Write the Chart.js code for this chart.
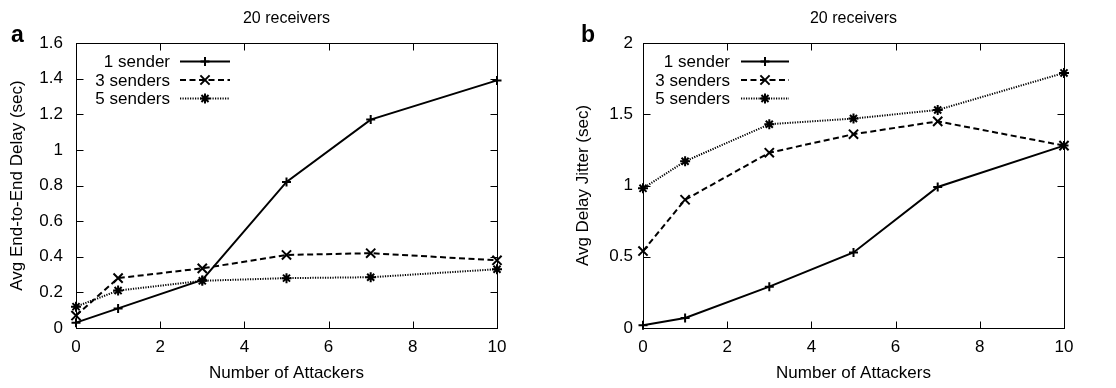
<!DOCTYPE html>
<html>
<head>
<meta charset="utf-8">
<script src="https://cdn.jsdelivr.net/npm/chart.js@4.4.1/dist/chart.umd.min.js"></script>
<style>
  body { margin: 0; background: #fff; }
  #wrap { position: relative; width: 1116px; height: 388px; }
  .panel { position: absolute; top: 0; height: 388px; }
</style>
</head>
<body>
<div id="wrap">
  <div class="panel" style="left:0;width:556px"><canvas id="delayChart" width="556" height="388"></canvas></div>
  <div class="panel" style="left:556px;width:560px"><canvas id="jitterChart" width="560" height="388"></canvas></div>
</div>
<script>
// data
const attackers = [0, 1, 3, 5, 7, 10];
const seriesLabels = ['1 sender', '3 senders', '5 senders'];

const delay1 = [0.03, 0.11, 0.27, 0.82, 1.17, 1.39];
const delay3 = [0.07, 0.28, 0.335, 0.41, 0.42, 0.38];
const delay5 = [0.12, 0.21, 0.265, 0.28, 0.285, 0.33];

const jitter1 = [0.02, 0.07, 0.29, 0.53, 0.99, 1.28];
const jitter3 = [0.54, 0.9, 1.23, 1.36, 1.45, 1.28];
const jitter5 = [0.98, 1.17, 1.43, 1.47, 1.53, 1.79];

const xTicks = [0, 2, 4, 6, 8, 10];
const delayTicks = [0, 0.2, 0.4, 0.6, 0.8, 1, 1.2, 1.4, 1.6];
const jitterTicks = [0, 0.5, 1, 1.5, 2];

const FONT = '"Liberation Sans", Arial, Helvetica, sans-serif';
Chart.defaults.font.family = FONT;
Chart.defaults.color = '#000';

const styles = [
  { borderDash: [], pointStyle: 'cross', pointRadius: 4.5 },
  { borderDash: [6, 3.5], pointStyle: 'crossRot', pointRadius: 6.5 },
  { borderDash: [1.2, 1.3], pointStyle: 'star', pointRadius: 5 }
];

function makeDatasets(seriesList) {
  return seriesList.map((vals, i) => ({
    label: seriesLabels[i],
    data: attackers.map((a, j) => ({ x: a, y: vals[j] })),
    borderColor: '#000',
    backgroundColor: '#000',
    borderWidth: 2,
    borderDash: styles[i].borderDash,
    pointStyle: styles[i].pointStyle,
    pointRadius: styles[i].pointRadius,
    pointBorderWidth: 2,
    pointHoverRadius: styles[i].pointRadius,
    tension: 0,
    clip: false
  }));
}

// gnuplot-like frame: box, inward ticks on all sides, key, title, panel letter
const gnuFrame = {
  id: 'gnuFrame',
  afterDatasetsDraw(chart, args, opts) {
    const { ctx, chartArea: a, scales } = chart;
    ctx.save();
    ctx.strokeStyle = '#000';
    ctx.lineWidth = 1;
    ctx.setLineDash([]);
    const L = Math.round(a.left) + 0.5, R = Math.round(a.right) + 0.5;
    const T = Math.round(a.top) + 0.5, B = Math.round(a.bottom) + 0.5;
    ctx.strokeRect(L, T, R - L, B - T);
    const tl = 7;
    ctx.beginPath();
    scales.x.ticks.forEach(t => {
      const px = Math.round(scales.x.getPixelForValue(t.value)) + 0.5;
      ctx.moveTo(px, B); ctx.lineTo(px, B - tl);
      ctx.moveTo(px, T); ctx.lineTo(px, T + tl);
    });
    scales.y.ticks.forEach(t => {
      const py = Math.round(scales.y.getPixelForValue(t.value)) + 0.5;
      ctx.moveTo(L, py); ctx.lineTo(L + tl, py);
      ctx.moveTo(R, py); ctx.lineTo(R - tl, py);
    });
    ctx.stroke();

    // key
    ctx.font = '17px ' + FONT;
    ctx.fillStyle = '#000';
    ctx.textAlign = 'right';
    ctx.textBaseline = 'middle';
    chart.data.datasets.forEach((ds, i) => {
      const y = a.top + opts.keyY + i * opts.keyGap;
      const tx = a.left + opts.keyText;
      ctx.fillText(ds.label, tx, y + 1);
      const x0 = a.left + opts.keyLine[0], x1 = a.left + opts.keyLine[1];
      ctx.lineWidth = 2;
      ctx.setLineDash(ds.borderDash);
      ctx.beginPath();
      ctx.moveTo(x0, y); ctx.lineTo(x1, y);
      ctx.stroke();
      ctx.setLineDash([]);
      Chart.helpers.drawPoint(ctx, {
        pointStyle: ds.pointStyle, radius: ds.pointRadius, borderWidth: 2, rotation: 0
      }, (x0 + x1) / 2, y);
    });

    // title
    ctx.font = '16px ' + FONT;
    ctx.textAlign = 'center';
    ctx.textBaseline = 'alphabetic';
    ctx.fillText(opts.title, (a.left + a.right) / 2, 23);

    // panel letter
    ctx.font = 'bold 23px ' + FONT;
    ctx.textAlign = 'left';
    ctx.fillText(opts.letter, opts.letterX, 42);
    ctx.restore();
  }
};

function makeChart(id, seriesList, yTicks, yTitle, geo) {
  return new Chart(document.getElementById(id), {
    type: 'line',
    data: { datasets: makeDatasets(seriesList) },
    plugins: [gnuFrame],
    options: {
      responsive: false,
      animation: false,
      events: [],
      layout: { padding: { left: 0, right: geo.padRight, top: 43, bottom: 0 } },
      plugins: {
        legend: { display: false },
        tooltip: { enabled: false },
        gnuFrame: {
          title: '20 receivers', letter: geo.letter, letterX: geo.letterX,
          keyY: 18.5, keyGap: 18.5, keyText: geo.keyText, keyLine: geo.keyLine
        }
      },
      scales: {
        x: {
          type: 'linear', min: 0, max: 10,
          afterBuildTicks: s => { s.ticks = xTicks.map(v => ({ value: v })); },
          afterFit: s => { s.height = 60; },
          grid: { display: false, drawTicks: false },
          border: { display: false },
          ticks: { padding: 9, font: { size: 17 }, maxRotation: 0, autoSkip: false },
          title: { display: true, text: 'Number of Attackers', font: { size: 17 }, padding: { top: 0, bottom: 4 } }
        },
        y: {
          type: 'linear', min: yTicks[0], max: yTicks[yTicks.length - 1],
          afterBuildTicks: s => { s.ticks = yTicks.map(v => ({ value: v })); },
          afterFit: s => { s.width = geo.yWidth; },
          grid: { display: false, drawTicks: false },
          border: { display: false },
          ticks: { padding: geo.yPad, font: { size: 17 }, autoSkip: false, callback: v => String(v) },
          title: { display: true, text: yTitle, font: { size: 17 }, padding: { top: geo.yTitlePad, bottom: 0 } }
        }
      }
    }
  });
}

makeChart('delayChart', [delay1, delay3, delay5], delayTicks, 'Avg End-to-End Delay (sec)', {
  padRight: 59, yWidth: 76, yPad: 13, yTitlePad: 7, letter: 'a', letterX: 11,
  keyText: 94, keyLine: [104, 154]
});
makeChart('jitterChart', [jitter1, jitter3, jitter5], jitterTicks, 'Avg Delay Jitter (sec)', {
  padRight: 52, yWidth: 87, yPad: 10, yTitlePad: 17, letter: 'b', letterX: 25,
  keyText: 87, keyLine: [98, 146]
});
</script>
</body>
</html>
